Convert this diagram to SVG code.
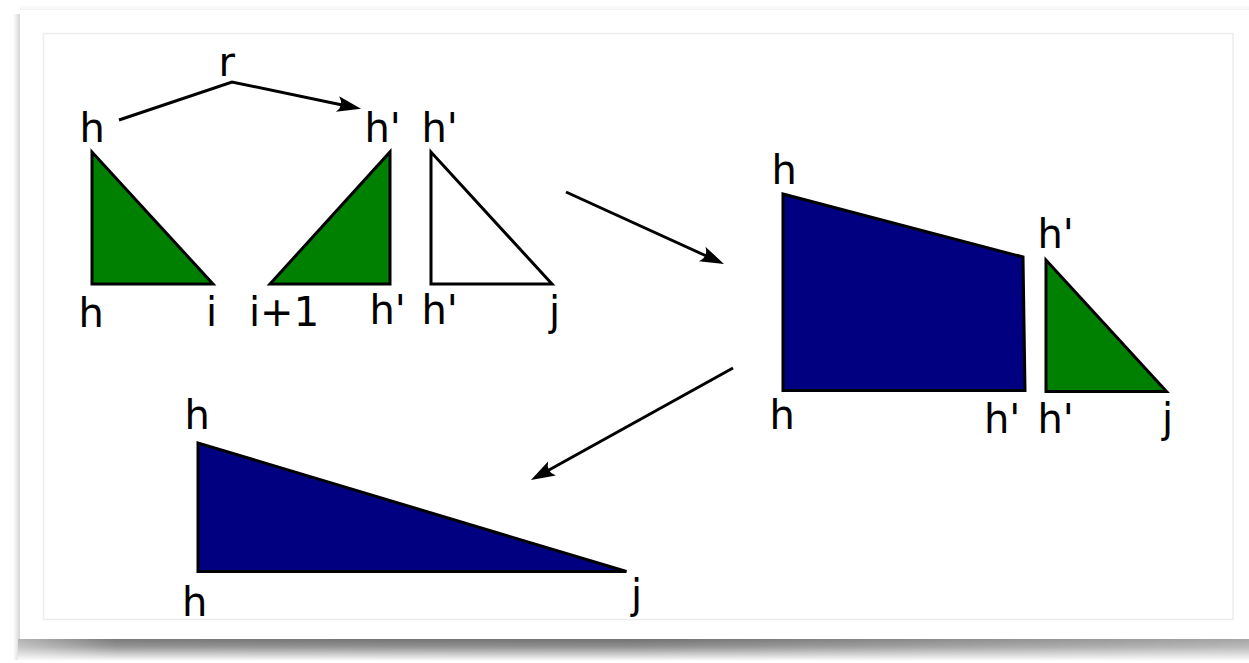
<svg xmlns="http://www.w3.org/2000/svg" width="1249" height="663" viewBox="0 0 1249 663">
  <defs>
    <linearGradient id="shB" x1="0" y1="0" x2="0" y2="1">
      <stop offset="0" stop-color="#6a6a6a"/>
      <stop offset="0.35" stop-color="#8a8a8a"/>
      <stop offset="1" stop-color="#ffffff"/>
    </linearGradient>
    <linearGradient id="shBh" x1="0" y1="0" x2="1" y2="0">
      <stop offset="0" stop-color="#ffffff" stop-opacity="0.5"/>
      <stop offset="0.08" stop-color="#ffffff" stop-opacity="0.1"/>
      <stop offset="0.5" stop-color="#ffffff" stop-opacity="0.05"/>
      <stop offset="1" stop-color="#ffffff" stop-opacity="0.4"/>
    </linearGradient>
    <linearGradient id="shL" x1="0" y1="0" x2="1" y2="0">
      <stop offset="0" stop-color="#ffffff"/>
      <stop offset="1" stop-color="#cfcfcf"/>
    </linearGradient>
    <linearGradient id="shT" x1="0" y1="0" x2="0" y2="1">
      <stop offset="0" stop-color="#ffffff"/>
      <stop offset="1" stop-color="#efefef"/>
    </linearGradient>
    <marker id="ah" markerUnits="userSpaceOnUse" orient="auto" refX="0" refY="0" markerWidth="40" markerHeight="40" overflow="visible">
      <path d="M18,0 L-6,-8 Q1,0 -6,8 Z" fill="#000"/>
    </marker>
  </defs>
  <style>
    .lbl { font-family: "DejaVu Sans", "Liberation Sans", sans-serif; font-size: 40px; fill: #000; }
    .shape { stroke: #000; stroke-width: 3; stroke-linejoin: miter; }
    .green { fill: #008000; }
    .blue { fill: #000080; }
    .white { fill: #ffffff; }
    .conn { fill: none; stroke: #000; stroke-width: 3; marker-end: url(#ah); }
  </style>

  <!-- frame -->
  <rect x="0" y="0" width="1249" height="663" fill="#ffffff"/>
  <rect x="20" y="5" width="1229" height="6" fill="url(#shT)"/>
  <rect x="13" y="14" width="8" height="646" fill="url(#shL)"/>
  <rect x="18" y="639" width="1231" height="22" fill="url(#shB)"/>
  <rect x="18" y="639" width="1231" height="22" fill="url(#shBh)"/>
  <rect x="20" y="10" width="1229" height="629" fill="#ffffff"/>
  <rect x="43.5" y="33.5" width="1189.5" height="586" fill="#ffffff" stroke="#ececec" stroke-width="1.5"/>

  <!-- connectors -->
  <g id="connectors">
    <polyline class="conn" points="119,120 232,82 343.4,105.2"/>
    <line class="conn" x1="566" y1="192" x2="707.6" y2="256.5"/>
    <line class="conn" x1="733" y1="368" x2="546.7" y2="471.3"/>
    <text class="lbl" x="218.5" y="76">r</text>
  </g>

  <g id="tri-h-i">
    <polygon class="shape green" points="92,152 92,284 213,284"/>
    <text class="lbl" x="79.5" y="142">h</text>
    <text class="lbl" x="78.5" y="327">h</text>
    <text class="lbl" x="206" y="326">i</text>
  </g>

  <g id="tri-i1-hp">
    <polygon class="shape green" points="270,284 390,152 390,284"/>
    <text class="lbl" x="364.5" y="142">h'</text>
    <text class="lbl" x="249" y="326">i+1</text>
    <text class="lbl" x="369.5" y="324">h'</text>
  </g>

  <g id="tri-hp-j">
    <polygon class="shape white" points="431,152 431,284 552,284"/>
    <text class="lbl" x="421.5" y="142">h'</text>
    <text class="lbl" x="421.5" y="324">h'</text>
    <text class="lbl" x="549" y="325">j</text>
  </g>

  <g id="quad-h-hp">
    <polygon class="shape blue" points="783,194 1023,257 1025,390.5 783,390.5"/>
    <text class="lbl" x="771.5" y="184">h</text>
    <text class="lbl" x="769.5" y="429">h</text>
    <text class="lbl" x="984" y="433">h'</text>
  </g>

  <g id="tri-hp-j-2">
    <polygon class="shape green" points="1046,260 1046,391.5 1166.5,391.5"/>
    <text class="lbl" x="1037.5" y="248">h'</text>
    <text class="lbl" x="1037.5" y="433">h'</text>
    <text class="lbl" x="1162" y="432">j</text>
  </g>

  <g id="tri-h-j">
    <polygon class="shape blue" points="198,443 198,571.5 626.5,571.5"/>
    <text class="lbl" x="184.5" y="429">h</text>
    <text class="lbl" x="182" y="616">h</text>
    <text class="lbl" x="631" y="608">j</text>
  </g>
</svg>
